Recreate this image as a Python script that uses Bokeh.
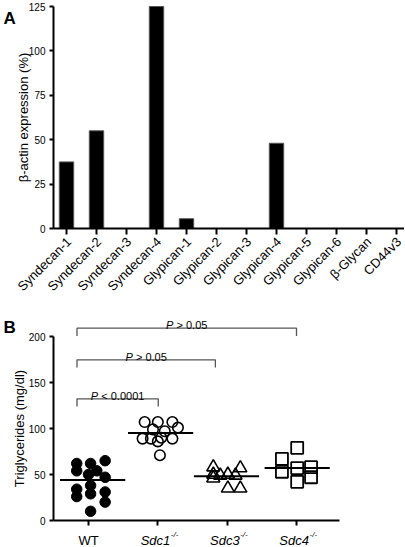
import numpy as np
from bokeh.plotting import figure
from bokeh.models import FixedTicker, Label, Range1d, CustomLabelingPolicy
from bokeh.layouts import column
from bokeh.embed import file_html
from bokeh.resources import INLINE

FONT = "Liberation Sans"

# ---------------- Panel A data ----------------
genes = ["Syndecan-1", "Syndecan-2", "Syndecan-3", "Syndecan-4", "Glypican-1",
         "Glypican-2", "Glypican-3", "Glypican-4", "Glypican-5", "Glypican-6",
         "β-Glycan", "CD44v3"]
expression = [37.5, 55, 0, 125, 5.5, 0, 0, 48, 0, 0, 0, 0]
a_yticks = [0, 25, 50, 75, 100, 125]

# ---------------- Panel B data ----------------
groups = ["WT", "Sdc1", "Sdc3", "Sdc4"]
wt_tg = [62, 62, 65, 54, 54, 47, 50, 38, 34, 26, 29, 31, 20, 10]
wt_off = [-0.17, 0.03, 0.24, -0.17, 0.12, 0.24, 0.0, 0.03, -0.17, -0.17, 0.03, 0.24, 0.24, 0.03]
sdc1_tg = [107, 107, 107, 99, 101, 97, 89, 89, 90, 89, 86, 71]
sdc1_off = [-0.19, 0.0, 0.21, -0.07, 0.29, 0.1, -0.22, -0.1, 0.05, 0.21, 0.0, 0.03]
sdc3_tg = [58, 50, 46, 49, 50, 49, 57, 35, 35]
sdc3_off = [-0.2, -0.2, -0.2, -0.1, 0.01, 0.12, 0.19, 0.01, 0.19]
sdc4_tg = [67, 53, 79, 57, 42, 58, 47]
sdc4_off = [-0.21, -0.21, 0.01, 0.01, 0.01, 0.21, 0.21]
group_means = [44, 95, 48, 57]
b_yticks = [0, 50, 100, 150, 200]
# significance brackets: (from group, to group, label)
comparisons = [(0, 3, "> 0.05"), (0, 2, "> 0.05"), (0, 1, "< 0.0001")]
bracket_levels = [209, 174.7, 132.3]

HIDE_LABELS = CustomLabelingPolicy(code="for (const i of indices) indices.unset(i); return indices;")


def style_axes(p):
    for ax in p.axis:
        ax.axis_line_width = 2
        ax.axis_line_color = "black"
        ax.major_tick_line_width = 2
        ax.major_tick_line_color = "black"
        ax.major_tick_in = 0
        ax.minor_tick_out = 0
        ax.minor_tick_in = 0
        ax.major_label_text_font = FONT
        ax.major_label_text_color = "black"
        ax.axis_label_text_font = FONT
        ax.axis_label_text_font_style = "normal"
        ax.axis_label_text_color = "black"
    p.grid.visible = False
    p.outline_line_color = None


# ================= Panel A =================
A_W, A_H = 404, 300
a_px = 30.0           # pixels per category
a_py = 222 / 125      # pixels per % unit
a_x0, a_y0 = 66, 228  # pixel position of first category / zero line
a_xlo, a_xhi = -0.433, 11.267
pA = figure(width=A_W, height=A_H,
            x_range=Range1d(-a_x0 / a_px, (A_W - a_x0) / a_px),
            y_range=Range1d(-(A_H - a_y0) / a_py, a_y0 / a_py),
            output_backend="svg", toolbar_location=None,
            min_border_left=0, min_border_right=0, min_border_top=0, min_border_bottom=0)
pA.vbar(x=list(range(len(genes))), top=expression, bottom=0, width=0.48,
        fill_color="black", line_color="#555555", line_width=1)
style_axes(pA)
pA.xaxis.fixed_location = 0
pA.xaxis.bounds = (a_xlo, a_xhi)
pA.xaxis.ticker = FixedTicker(ticks=list(range(len(genes))))
pA.xaxis.major_label_policy = HIDE_LABELS
pA.xaxis.major_label_text_font_size = "6px"
pA.xaxis.major_tick_out = 6
pA.yaxis.fixed_location = a_xlo
pA.yaxis.bounds = (0, 125)
pA.yaxis.ticker = FixedTicker(ticks=a_yticks)
pA.yaxis.major_label_text_font_size = "10px"
pA.yaxis.major_tick_out = 4
pA.yaxis.major_label_standoff = 4
pA.yaxis.axis_label = "β-actin expression (%)"
pA.yaxis.axis_label_text_font_size = "13px"
pA.yaxis.axis_label_standoff = -5

for i, g in enumerate(genes):
    pA.add_layout(Label(x=i + 2.5 / a_px, y=-11 / a_py, text=g, angle=np.pi / 4,
                        text_font=FONT, text_font_size="13px", text_align="right",
                        text_baseline="middle", text_color="black"))
pA.add_layout(Label(x=(3 - a_x0) / a_px, y=(a_y0 - 18) / a_py, text="A", text_font=FONT,
                    text_font_size="17px", text_font_style="bold", text_color="black",
                    text_baseline="alphabetic"))

# ================= Panel B =================
B_W, B_H = 404, 246
B_TOP = A_H            # page y of panel B top
b_px = 286 / 4.125
b_py = 0.92
b_x0, b_y0 = 88, 520 - B_TOP   # pixel of WT tick / zero line inside panel B
b_xlo, b_xhi = -0.505, 3.62
pB = figure(width=B_W, height=B_H,
            x_range=Range1d(-b_x0 / b_px, (B_W - b_x0) / b_px),
            y_range=Range1d(-(B_H - b_y0) / b_py, b_y0 / b_py),
            output_backend="svg", toolbar_location=None,
            min_border_left=0, min_border_right=0, min_border_top=0, min_border_bottom=0)
style_axes(pB)

# mean lines
half = 0.47
mean_shift = [0.06, 0.04, -0.01, 0.01]
pB.segment(x0=[i + s - half for i, s in enumerate(mean_shift)],
           y0=group_means,
           x1=[i + s + half for i, s in enumerate(mean_shift)],
           y1=group_means, line_color="black", line_width=2)

pB.scatter(x=[0 + o for o in wt_off], y=wt_tg, marker="circle", size=10.5,
           fill_color="black", line_color="black", line_width=1)
pB.scatter(x=[1 + o for o in sdc1_off], y=sdc1_tg, marker="circle", size=10.5,
           fill_color="white", fill_alpha=0.0, line_color="black", line_width=1.6)
pB.scatter(x=[2 + o for o in sdc3_off], y=sdc3_tg, marker="triangle", size=13,
           fill_color="white", fill_alpha=0.0, line_color="black", line_width=1.6)
pB.scatter(x=[3 + o for o in sdc4_off], y=sdc4_tg, marker="square", size=12,
           fill_color="white", fill_alpha=0.0, line_color="black", line_width=1.8)

pB.xaxis.fixed_location = 0
pB.xaxis.bounds = (b_xlo, b_xhi)
pB.xaxis.ticker = FixedTicker(ticks=list(range(len(groups))))
pB.xaxis.major_label_policy = HIDE_LABELS
pB.xaxis.major_label_text_font_size = "6px"
pB.xaxis.major_tick_out = 5
pB.yaxis.fixed_location = b_xlo
pB.yaxis.ticker = FixedTicker(ticks=b_yticks)
pB.yaxis.bounds = (0, 200)
pB.yaxis.major_label_text_font_size = "10px"
pB.yaxis.major_tick_out = 4
pB.yaxis.major_label_standoff = 4
pB.yaxis.axis_label = "Triglycerides (mg/dl)"
pB.yaxis.axis_label_text_font_size = "13px"
pB.yaxis.axis_label_standoff = -1

# group labels (italic gene names with superscript -/-)
for i, g in enumerate(groups):
    if g == "WT":
        pB.add_layout(Label(x=i, y=-19.5 / b_py, text=g, text_font=FONT, text_font_size="13px",
                            text_align="center", text_baseline="alphabetic", text_color="black"))
    else:
        xr = i + 12.5 / b_px
        pB.add_layout(Label(x=xr, y=-19.5 / b_py, text=g, text_font=FONT, text_font_size="13px",
                            text_font_style="italic", text_align="right",
                            text_baseline="alphabetic", text_color="black"))
        pB.add_layout(Label(x=xr + 0.5 / b_px, y=-13.5 / b_py, text="-/-", text_font=FONT,
                            text_font_size="8px", text_font_style="italic", text_align="left",
                            text_baseline="alphabetic", text_color="black"))

# brackets
drop = 8.5
left_end = -0.166
right_shift = {3: 0.0, 2: -0.17, 1: 0.006}
xs, ys = [], []
for (g0, g1, txt), lvl in zip(comparisons, bracket_levels):
    xl = g0 + left_end
    xr = g1 + right_shift[g1]
    xs.append([xl, xl, xr, xr])
    ys.append([lvl - drop, lvl, lvl, lvl - drop])
    cx = (xl + xr) / 2
    w_p = 0.667 * 11
    w_sp = 0.278 * 11
    w_rest = (0.584 + 0.278 + 0.556 * (len(txt) - 3) + 0.278) * 11
    total = w_p + w_sp + w_rest
    x_start = cx - (total / 2) / b_px
    pB.add_layout(Label(x=x_start, y=lvl + 3.3, text="P", text_font=FONT, text_font_size="11px",
                        text_font_style="italic", text_align="left", text_baseline="alphabetic",
                        text_color="black"))
    pB.add_layout(Label(x=x_start + (w_p + w_sp) / b_px, y=lvl + 3.3, text=txt, text_font=FONT,
                        text_font_size="11px", text_align="left", text_baseline="alphabetic",
                        text_color="black"))
pB.multi_line(xs=xs, ys=ys, line_color="#555555", line_width=1.3)

pB.add_layout(Label(x=(3 - b_x0) / b_px, y=(520 - 327) / b_py, text="B", text_font=FONT,
                    text_font_size="17px", text_font_style="bold", text_color="black",
                    text_baseline="alphabetic"))

layout = column(pA, pB, spacing=0)
open("out.html", "w").write(file_html(layout, INLINE))
